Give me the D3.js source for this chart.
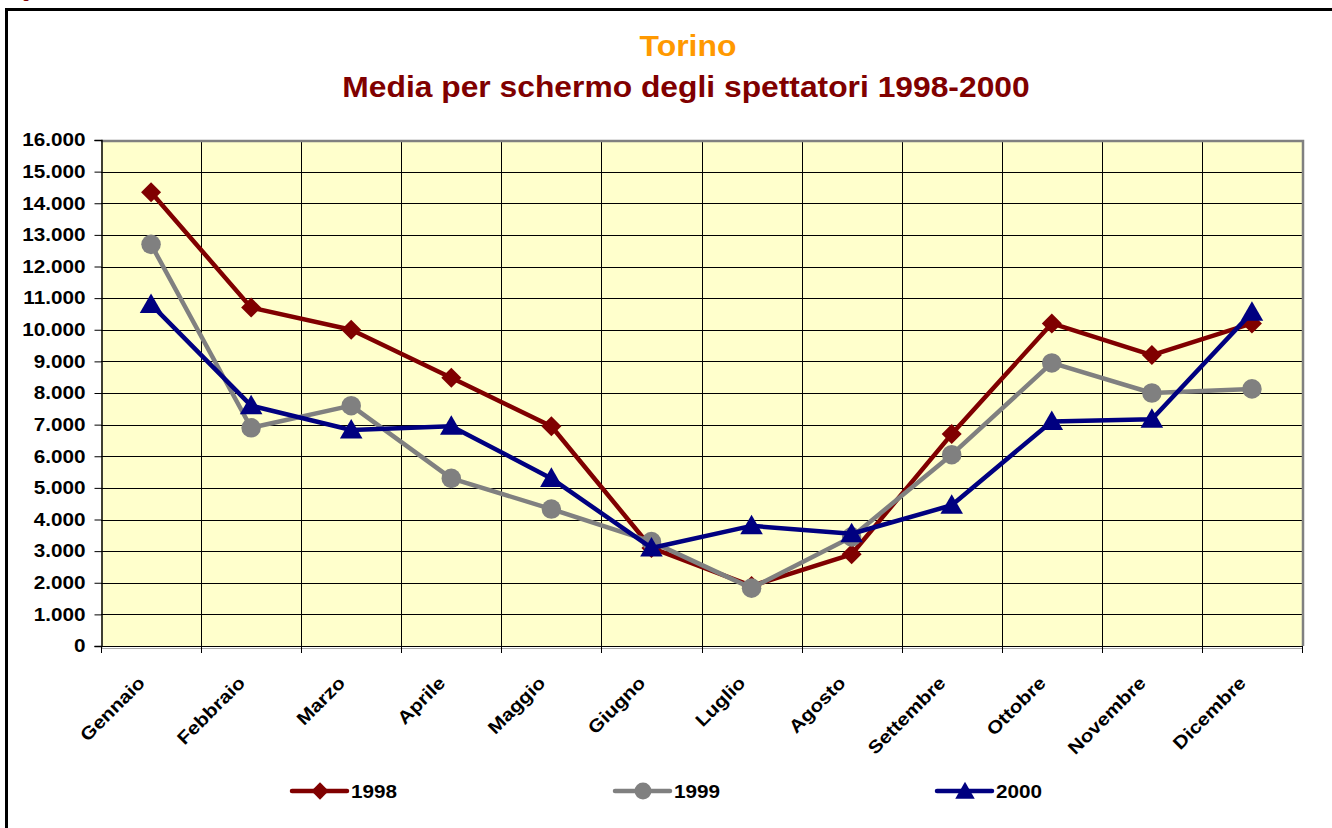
<html>
<head>
<meta charset="utf-8">
<title>Torino - Media per schermo degli spettatori 1998-2000</title>
<script src="https://cdn.jsdelivr.net/npm/d3@7"></script>
<style type="text/css">
	body { margin: 0; background: #ffffff; }
	svg text { font-family: Arial, "Liberation Sans", sans-serif; }
</style>
</head>
<body>
<div id="chart"></div>
<script type="text/javascript">

	// Data
	var months = ['Gennaio', 'Febbraio', 'Marzo', 'Aprile', 'Maggio', 'Giugno', 'Luglio', 'Agosto', 'Settembre', 'Ottobre', 'Novembre', 'Dicembre'];
	var years = ['1998', '1999', '2000'];
	var v1998 = [14350, 10700, 10000, 8480, 6950, 3100, 1900, 2900, 6700, 10200, 9200, 10200];
	var v1999 = [12700, 6900, 7600, 5300, 4330, 3300, 1830, 3450, 6050, 8950, 8000, 8130];
	var v2000 = [10800, 7600, 6830, 6950, 5300, 3100, 3800, 3550, 4450, 7100, 7170, 10550];
	var yTicks = [0, 1000, 2000, 3000, 4000, 5000, 6000, 7000, 8000, 9000, 10000, 11000, 12000, 13000, 14000, 15000, 16000];

	var colors = ['#800000', '#808080', '#000080'],
	    symbols = [d3.symbolSquare, d3.symbolCircle, d3.symbolTriangle],
	    symSize = [200, 300, 220],
	    symRot = [45, 0, 0],
	    symDy = [0, 0, 2],
	    series = [v1998, v1999, v2000];

	// Plot box (avoid "top", it is window.top)
	var W = 1332, H = 828,
	    pL = 101, pR = 1302, pT = 140, pB = 646,
	    sx = 1.15; // horizontal stretch of the labels

	var svg = d3.select("#chart").append("svg").attr("width", W).attr("height", H);

	// Outer frame
	svg.append("rect").attr("x", 6.5).attr("y", 9.5).attr("width", W + 20).attr("height", H + 20)
		.attr("fill", "none").attr("stroke", "#000").attr("stroke-width", 3);

	// Clipped caption at very top
	svg.append("text").attr("x", 22).attr("y", -2).attr("fill", "#800000")
		.attr("font-weight", "bold").attr("font-size", 14).text("g");

	// Titles
	svg.append("text").attr("transform", "translate(688,56) scale(1.1,1)").attr("text-anchor", "middle")
		.attr("fill", "#ff9900").attr("font-weight", "bold").attr("font-size", 29).text("Torino");
	svg.append("text").attr("transform", "translate(686,97) scale(1.06,1)").attr("text-anchor", "middle")
		.attr("fill", "#800000").attr("font-weight", "bold").attr("font-size", 30)
		.text("Media per schermo degli spettatori 1998-2000");

	// Scales
	var x = d3.scaleBand().domain(months).range([pL, pR]);
	var y = d3.scaleLinear().domain([0, 16000]).range([pB, pT]);

	// Plot background
	svg.append("rect").attr("x", pL).attr("y", pT).attr("width", pR - pL).attr("height", pB - pT)
		.attr("fill", "#ffffcc");

	// Gridlines
	var grid = svg.append("g").attr("shape-rendering", "crispEdges");
	grid.selectAll(".hg").data(yTicks.slice(1, -1)).enter().append("line")
		.attr("x1", pL).attr("x2", pR)
		.attr("y1", function(d){ return Math.round(y(d)) + 0.5 }).attr("y2", function(d){ return Math.round(y(d)) + 0.5 })
		.attr("stroke", "#000").attr("stroke-width", 1);
	grid.selectAll(".vg").data(months.slice(1)).enter().append("line")
		.attr("x1", function(d){ return Math.round(x(d)) + 0.5 }).attr("x2", function(d){ return Math.round(x(d)) + 0.5 })
		.attr("y1", pT).attr("y2", pB)
		.attr("stroke", "#000").attr("stroke-width", 1);

	// Plot border (gray top/right)
	svg.append("path").attr("d", "M" + pL + "," + (pT + 1) + "H" + (pR + 1) + "V" + pB)
		.attr("fill", "none").attr("stroke", "#808080").attr("stroke-width", 2.5);

	// Y axis
	var yAxis = d3.axisLeft(y).tickValues(yTicks).tickSize(7).tickPadding(7)
		.tickFormat(function(d){ return d3.format(",")(d).replace(/,/g, ".") });
	var gy = svg.append("g").attr("transform", "translate(" + (pL + 0.5) + ",0)").call(yAxis);
	gy.select(".domain").attr("stroke", "#000").attr("stroke-width", 1.5);
	gy.selectAll("line").attr("stroke", "#000");
	gy.selectAll("text").attr("font-size", 18).attr("font-weight", "bold").attr("fill", "#000")
		.attr("font-family", "Arial, 'Liberation Sans', sans-serif")
		.attr("transform", "scale(" + sx + ",1)");

	// X axis: ticks at band boundaries
	var bounds = months.map(function(m){ return x(m) }).concat([pR]);
	var gx = svg.append("g").attr("shape-rendering", "crispEdges");
	gx.append("line").attr("x1", pL).attr("x2", pR + 1).attr("y1", pB + 0.5).attr("y2", pB + 0.5)
		.attr("stroke", "#000").attr("stroke-width", 1.5);
	gx.append("line").attr("x1", pL).attr("x2", pR + 1).attr("y1", pB + 2).attr("y2", pB + 2)
		.attr("stroke", "#aaa").attr("stroke-width", 1);
	gx.selectAll(".tk").data(bounds).enter().append("line")
		.attr("x1", function(d){ return Math.round(d) + 0.5 }).attr("x2", function(d){ return Math.round(d) + 0.5 })
		.attr("y1", pB).attr("y2", pB + 7).attr("stroke", "#000");

	// X labels, rotated
	svg.selectAll(".xl").data(months).enter().append("text")
		.attr("transform", function(d){ return "translate(" + (x(d) + x.bandwidth() / 2 - 5) + "," + (pB + 38) + ") rotate(-45) scale(" + sx + ",1)" })
		.attr("text-anchor", "end").attr("font-size", 18).attr("font-weight", "bold").attr("fill", "#000")
		.text(function(d){ return d });

	// Lines and markers
	var line = d3.line()
		.x(function(d, i){ return x(months[i]) + x.bandwidth() / 2 })
		.y(function(d){ return y(d) });

	series.forEach(function(s, k){
		svg.append("path").datum(s).attr("d", line)
			.attr("fill", "none").attr("stroke", colors[k]).attr("stroke-width", 4.5).attr("stroke-linejoin", "round");
		svg.selectAll(".m" + k).data(s).enter().append("path")
			.attr("d", d3.symbol().type(symbols[k]).size(symSize[k]))
			.attr("transform", function(d, i){ return "translate(" + (x(months[i]) + x.bandwidth() / 2) + "," + (y(d) + symDy[k]) + ") rotate(" + symRot[k] + ")" })
			.attr("fill", colors[k]);
	});

	// Legend
	var legX = [292, 615, 937];
	years.forEach(function(yr, k){
		var g = svg.append("g").attr("transform", "translate(" + legX[k] + ",791)");
		g.append("line").attr("x1", 0).attr("x2", 55).attr("y1", 0).attr("y2", 0)
			.attr("stroke", colors[k]).attr("stroke-width", 4.5).attr("stroke-linecap", "round");
		g.append("path").attr("d", d3.symbol().type(symbols[k]).size(symSize[k] * 0.75))
			.attr("transform", "translate(28," + symDy[k] + ") rotate(" + symRot[k] + ")").attr("fill", colors[k]);
		g.append("text").attr("transform", "translate(59,7) scale(" + sx + ",1)")
			.attr("font-size", 18).attr("font-weight", "bold").attr("fill", "#000").text(yr);
	});

</script>
</body>
</html>
